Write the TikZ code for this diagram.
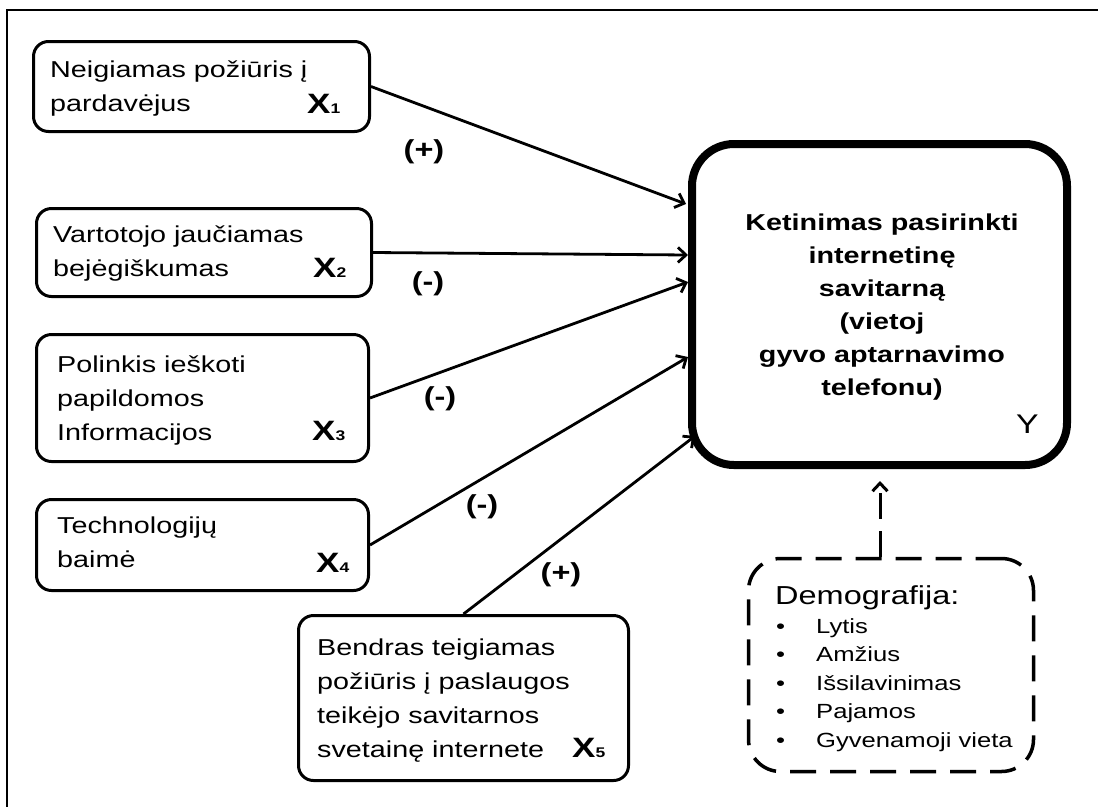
\documentclass[tikz,border=0pt]{standalone}
\usepackage{fontspec}
\setmainfont{Liberation Sans}[FakeStretch=1.25]
\usetikzlibrary{arrows.meta}

% bold X with a small index digit, as in X1 ... X5
\newcommand\varlabel[1]{{\fontsize{28}{28}\selectfont\bfseries X}{\fontsize{14}{14}\selectfont\bfseries #1}}

\begin{document}
\begin{tikzpicture}[x=1pt,y=-1pt,
  factorbox/.style={draw, line width=3pt, rounded corners=15pt, inner sep=0pt},
  targetbox/.style={draw, line width=8pt, rounded corners=42pt, inner sep=0pt},
  demobox/.style={draw, line width=3.5pt, rounded corners=32pt, inner sep=0pt,
                  dash pattern=on 26pt off 14pt},
  boxtext/.style={anchor=base west, inner sep=0pt, font=\fontsize{23}{34}\selectfont},
  sign/.style={inner sep=0pt, font=\fontsize{26}{26}\selectfont\bfseries},
  varname/.style={anchor=base west, inner sep=0pt},
  link/.style={line width=2.8pt, -{Straight Barb[length=8pt,width=15pt]}},
  dashlink/.style={line width=3pt, dash pattern=on 26pt off 12pt,
                   -{Straight Barb[length=8pt,width=15pt]}}]

\useasboundingbox (0,0) rectangle (1098,807);

% page frame (top and left edges)
\draw[line width=1.5pt] (1098,10) -- (7,10) -- (7,807);

% factor boxes
\node[factorbox, minimum width=336pt, minimum height=90pt]  (x1) at (201.5,86.5) {};
\node[factorbox, minimum width=335pt, minimum height=88pt]  (x2) at (204,252.5) {};
\node[factorbox, minimum width=332pt, minimum height=127pt] (x3) at (202.5,398) {};
\node[factorbox, minimum width=332pt, minimum height=91pt]  (x4) at (202.5,545) {};
\node[factorbox, minimum width=330pt, minimum height=165pt] (x5) at (463.5,698) {};

% target box and demographic box
\node[targetbox, minimum width=375pt, minimum height=321pt] (y) at (879.5,304.5) {};
\node[demobox, minimum width=285pt, minimum height=213pt] (demo) at (891,665) {};

% factor texts
\node[boxtext] (t1) at (50,77) {\begin{tabular}[t]{@{}l@{}}Neigiamas požiūris į\\pardavėjus\end{tabular}};
\node[varname] (v1) at (307,113) {\varlabel{1}};

\node[boxtext] (t2) at (53,242) {\begin{tabular}[t]{@{}l@{}}Vartotojo jaučiamas\\bejėgiškumas\end{tabular}};
\node[varname] (v2) at (313,277) {\varlabel{2}};

\node[boxtext] (t3) at (57,372) {\begin{tabular}[t]{@{}l@{}}Polinkis ieškoti\\papildomos\\Informacijos\end{tabular}};
\node[varname] (v3) at (312,440) {\varlabel{3}};

\node[boxtext] (t4) at (57,533) {\begin{tabular}[t]{@{}l@{}}Technologijų\\baimė\end{tabular}};
\node[varname] (v4) at (316,572) {\varlabel{4}};

\node[boxtext] (t5) at (317,655) {\begin{tabular}[t]{@{}l@{}}Bendras teigiamas\\požiūris į paslaugos\\teikėjo savitarnos\\svetainę internete\end{tabular}};
\node[varname] (v5) at (572,757) {\varlabel{5}};

% target text
\node[anchor=base, inner sep=0pt, font=\fontsize{23}{33}\selectfont\bfseries] (ty) at (882,230)
  {\begin{tabular}[t]{@{}c@{}}Ketinimas pasirinkti\\internetinę\\savitarną\\(vietoj\\gyvo aptarnavimo\\telefonu)\end{tabular}};
\node[anchor=base west, inner sep=0pt, font=\fontsize{27}{27}\selectfont] (vy) at (1016,433) {Y};

% demographic text
\node[anchor=base west, inner sep=0pt, font=\fontsize{26}{26}\selectfont] (dt) at (775,604) {Demografija:};
\node[anchor=base west, inner sep=0pt, font=\fontsize{20.5}{28.5}\selectfont] (dl) at (776,633)
  {\begin{tabular}[t]{@{}l@{}}\makebox[40pt][l]{•}Lytis\\\makebox[40pt][l]{•}Amžius\\\makebox[40pt][l]{•}Išsilavinimas\\\makebox[40pt][l]{•}Pajamos\\\makebox[40pt][l]{•}Gyvenamoji vieta\end{tabular}};

% arrow end points on the target box
\coordinate (e1) at (686,204);
\coordinate (e2) at (688,255);
\coordinate (e3) at (688,282);
\coordinate (e4) at (688,357);
\coordinate (e5) at (695,436);
\coordinate (ed) at (880,481);

% connectors
\draw[link] (x1.east) -- (e1);
\draw[link] (x2.east) -- (e2);
\draw[link] (x3.east) -- (e3);
\draw[link] (x4.east) -- (e4);
\draw[link] (x5.north) -- (e5);
\draw[dashlink] (demo.north -| ed) -- (ed);

% signs of the effects
\node[sign] (s1) at (424,152) {(+)};
\node[sign] (s2) at (428,284) {(-)};
\node[sign] (s3) at (440,399) {(-)};
\node[sign] (s4) at (482,507) {(-)};
\node[sign] (s5) at (561,575) {(+)};

\end{tikzpicture}
\end{document}
